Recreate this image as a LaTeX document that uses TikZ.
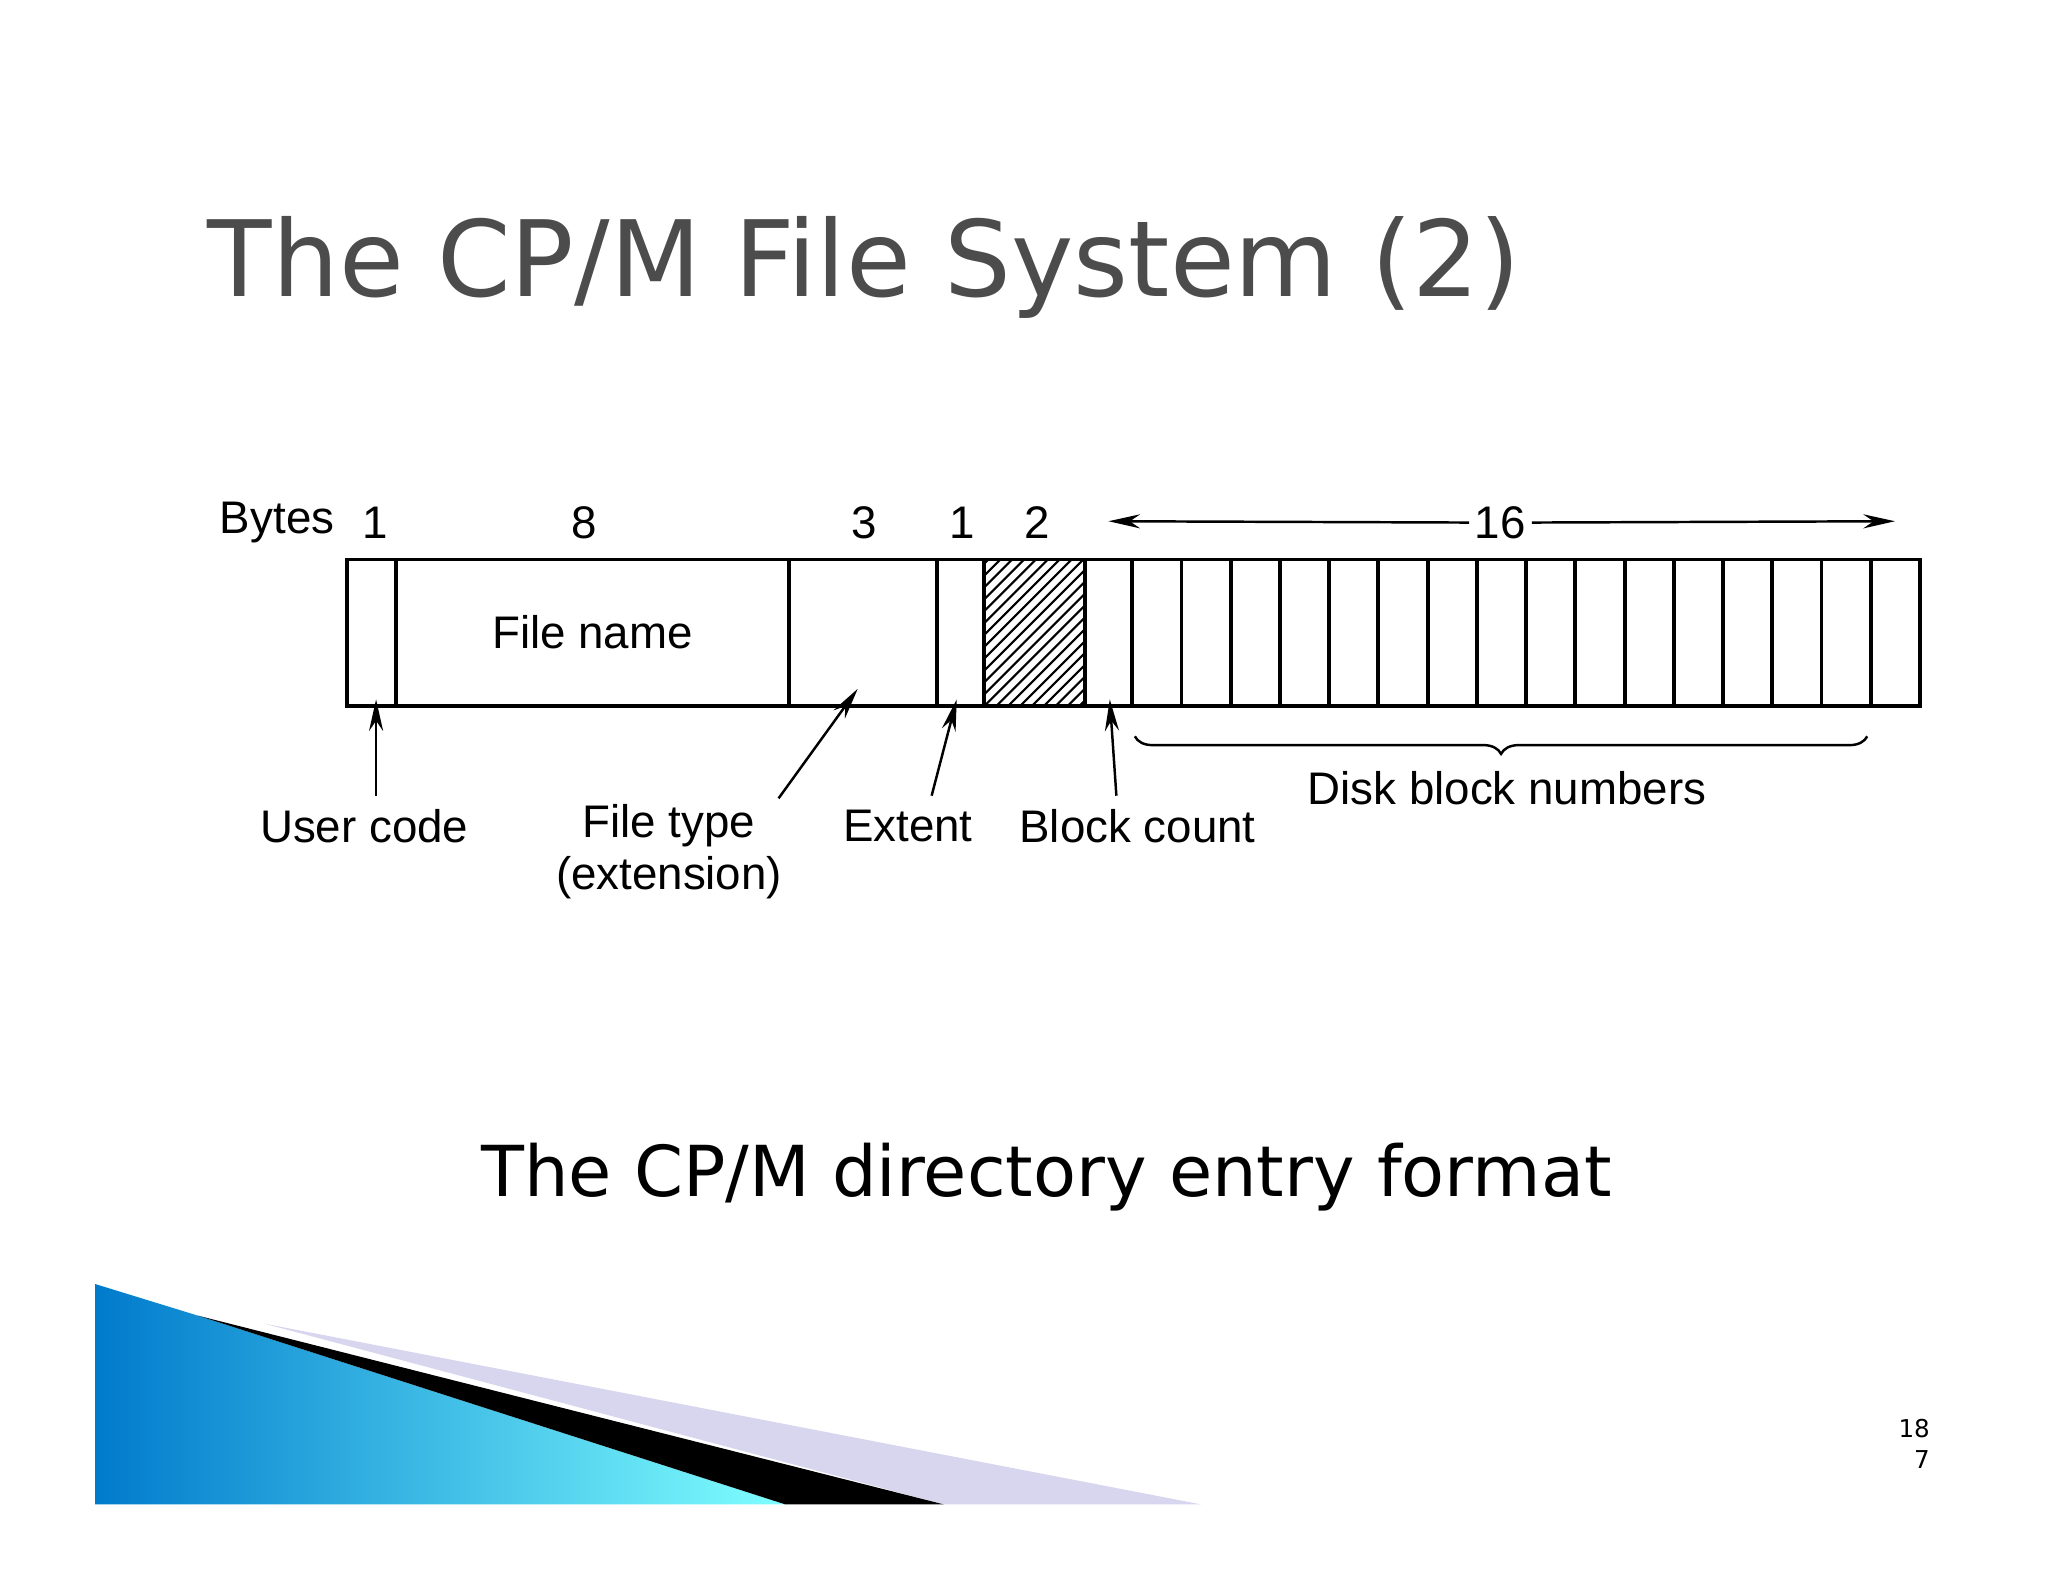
\documentclass[tikz,border=0pt]{standalone}
\usepackage{fontspec}
\setmainfont{Liberation Sans}
\newfontfamily\slidefont{DejaVu Sans}
\usetikzlibrary{patterns,decorations.pathreplacing,arrows.meta}
\begin{document}
\begin{tikzpicture}[x=0.013196cm,y=-0.013196cm,
  lbl/.style={font=\fontsize{13}{15}\selectfont,inner sep=0},
  ptr/.style={-{Stealth[length=9pt,width=4pt]},line width=0.7pt},
  box/.style={draw,line width=1.1pt}]
\useasboundingbox (0,0) rectangle (1552,1199);
\fill[white] (0,0) rectangle (1552,1199);
% title
\node[anchor=base west,inner sep=0,text=black!70,font=\slidefont\fontsize{30}{34}\selectfont] (title) at (157,225) {The CP/M File System (2)};
% record
\draw[box] (263,424) rectangle (1455,535);
\foreach \x in {300,598,710,746,822,858} \draw[box] (\x,424) -- (\x,535);
\foreach \i in {1,...,15} \draw[box] ({858+\i*597/16},424) -- ({858+\i*597/16},535);
\begin{scope}
\clip (746,424) rectangle (822,535);
\foreach \k in {-12,...,10} \draw[line width=0.6pt] ({746+\k*9},535) -- ({746+\k*9+111},424);
\end{scope}
\draw[box] (746,424) rectangle (822,535);
\node[lbl] (fn) at (449,479) {File name};
% top labels
\node[lbl] (bytes) at (210,396) {Bytes};
\node[lbl] (b1) at (284,396) {1};
\node[lbl] (b8) at (443,396) {8};
\node[lbl] (b3) at (655,396) {3};
\node[lbl] (b1b) at (729,396) {1};
\node[lbl] (b2) at (786,396) {2};
\node[lbl] (b16) at (1137,396) {16};
\coordinate (l16) at (840,395);
\coordinate (r16) at (1436,395);
\draw[ptr] (b16.west) ++(-4,0) -- (l16);
\draw[ptr] (b16.east) ++(4,0) -- (r16);
% bottom labels
\node[lbl] (uc) at (276,626) {User code};
\node[lbl] (ft) at (507,626) {File type};
\node[lbl] (ext) at (507,665) {(extension)};
\node[lbl] (ex) at (688,626) {Extent};
\node[lbl] (bc) at (862,626) {Block count};
\node[lbl] (db) at (1142,597) {Disk block numbers};
\coordinate (uca) at (285,530);
\coordinate (fta) at (650,522);
\coordinate (exa) at (725,530);
\coordinate (bca) at (841,530);
\draw[ptr] (285,603) -- (uca);
\draw[ptr] (590,605) -- (fta);
\draw[ptr] (706,603) -- (exa);
\draw[ptr] (846,603) -- (bca);
\draw[line width=0.7pt,decorate,decoration={brace,mirror,amplitude=5pt}] (860,558) -- (1415,558);
% caption
\node[anchor=base,inner sep=0,font=\slidefont\fontsize{20}{24}\selectfont] (cap) at (793,907) {The CP/M directory entry format};
% page number
\node[anchor=base east,inner sep=0,font=\slidefont\fontsize{7}{8}\selectfont] (pn1) at (1463,1089) {18};
\node[anchor=base east,inner sep=0,font=\slidefont\fontsize{7}{8}\selectfont] (pn2) at (1463,1113) {7};
% decoration
\fill[cyan!20!blue!15] (200,1003) -- (910,1140) -- (715,1140) -- cycle;
\shade[left color=cyan!60!blue!80!black, right color=cyan!50] (72,973) -- (150,997) -- (595,1140) -- (72,1140) -- cycle;
\fill[black] (150,997) -- (715,1140) -- (595,1140) -- cycle;
\end{tikzpicture}
\end{document}
